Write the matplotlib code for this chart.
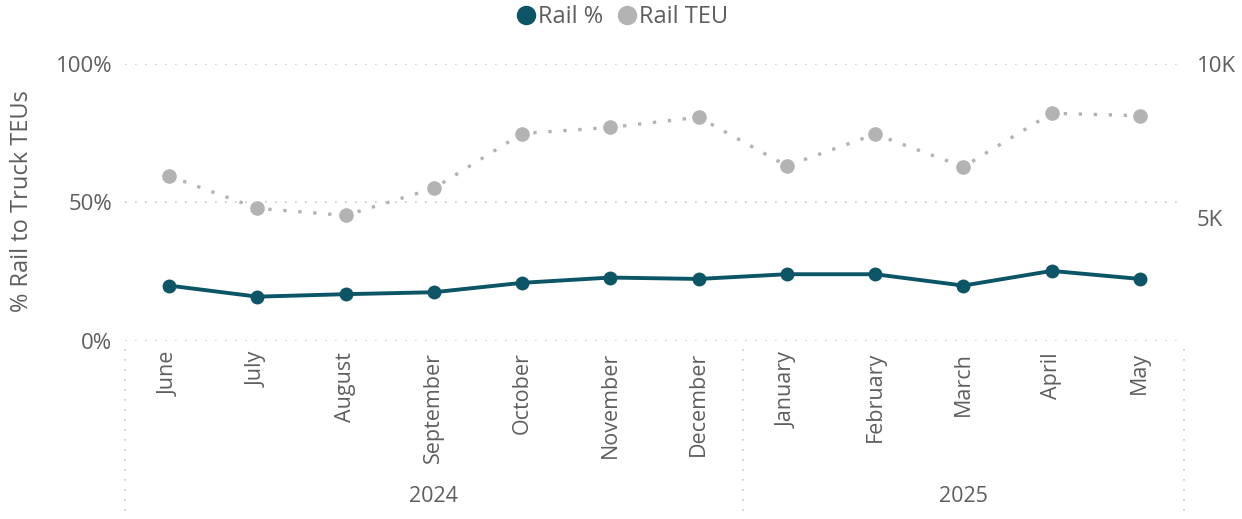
import matplotlib.pyplot as plt
import matplotlib.transforms as mtransforms
from matplotlib.lines import Line2D
import numpy as np

plt.rcParams['font.family'] = ['Open Sans', 'DejaVu Sans']

months = ['June', 'July', 'August', 'September', 'October', 'November',
          'December', 'January', 'February', 'March', 'April', 'May']
years = ['2024'] * 7 + ['2025'] * 5
rail_pct = [0.200, 0.160, 0.169, 0.176, 0.210, 0.229,
            0.224, 0.241, 0.241, 0.200, 0.253, 0.224]
rail_teu = [6360, 5310, 5080, 5960, 7740, 7940,
            8270, 6690, 7720, 6660, 8400, 8320]

teal = '#0B5566'
grey = '#B3B3B3'
txt = '#605E5C'
grid_c = '#C8C8C8'

fig = plt.figure(figsize=(12.42, 5.19), dpi=100)
ax = fig.add_axes([0.1006, 0.343, 0.8527, 0.5337])
ax2 = ax.twinx()

x = np.arange(len(months))
ax2.plot(x, rail_teu, color=grey, linestyle=(0, (1, 3.5)), linewidth=2.4,
         marker='o', markersize=9.5, zorder=2)
ax.plot(x, rail_pct, color=teal, linewidth=2.8, marker='o', markersize=9,
        zorder=3)
ax.set_zorder(ax2.get_zorder() + 1)
ax.patch.set_visible(False)

ax.set_xlim(-0.5, len(months) - 0.5)
ax.set_ylim(0, 1)
ax2.set_ylim(1000, 10000)

ax.set_yticks([0, 0.5, 1])
ax.set_yticklabels(['0%', '50%', '100%'])
ax2.set_yticks([5000, 10000])
ax2.set_yticklabels(['5K', '10K'])
for a in (ax, ax2):
    for s in a.spines.values():
        s.set_visible(False)
    a.tick_params(axis='y', length=0, labelsize=16, labelcolor=txt, pad=9)
ax.tick_params(axis='x', length=0, labelsize=15.5, labelcolor=txt, pad=8)
ax.set_xticks(x)
ax.set_xticklabels(months, rotation=90, va='top')

for v in [0, 0.5, 1]:
    ax.axhline(v, color=grid_c, linestyle=(0, (1, 5)), linewidth=1.2, zorder=0)

# year labels and separators under the month labels
trans = mtransforms.blended_transform_factory(ax.transData, fig.transFigure)
for yr in ['2024', '2025']:
    idx = [i for i, y in enumerate(years) if y == yr]
    ax.text(np.mean(idx), 1 - 497 / 519, yr, transform=trans, ha='center',
            va='center', fontsize=15.5, color=txt)
bounds = [-0.5] + [i - 0.5 for i in range(1, len(years)) if years[i] != years[i - 1]] + [len(years) - 0.5]
for b in bounds:
    ax.plot([b, b], [1 - 349 / 519, 0], transform=trans, color=grid_c,
            linestyle=(0, (1, 5)), linewidth=1.2, clip_on=False)

fig.text(22 / 1242, 1 - 201 / 519, '% Rail to Truck TEUs', rotation=90,
         ha='center', va='center', fontsize=17, color=txt)

handles = [Line2D([], [], color=teal, marker='o', linestyle='', markersize=13),
           Line2D([], [], color=grey, marker='o', linestyle='', markersize=13)]
fig.legend(handles, ['Rail %', 'Rail TEU'], loc='center', ncol=2,
           bbox_to_anchor=(0.5, 1 - 17 / 519), frameon=False, fontsize=17,
           labelcolor=txt, handletextpad=0.0, columnspacing=0.5,
           handlelength=1.0)

plt.savefig('out.png', dpi=100)
